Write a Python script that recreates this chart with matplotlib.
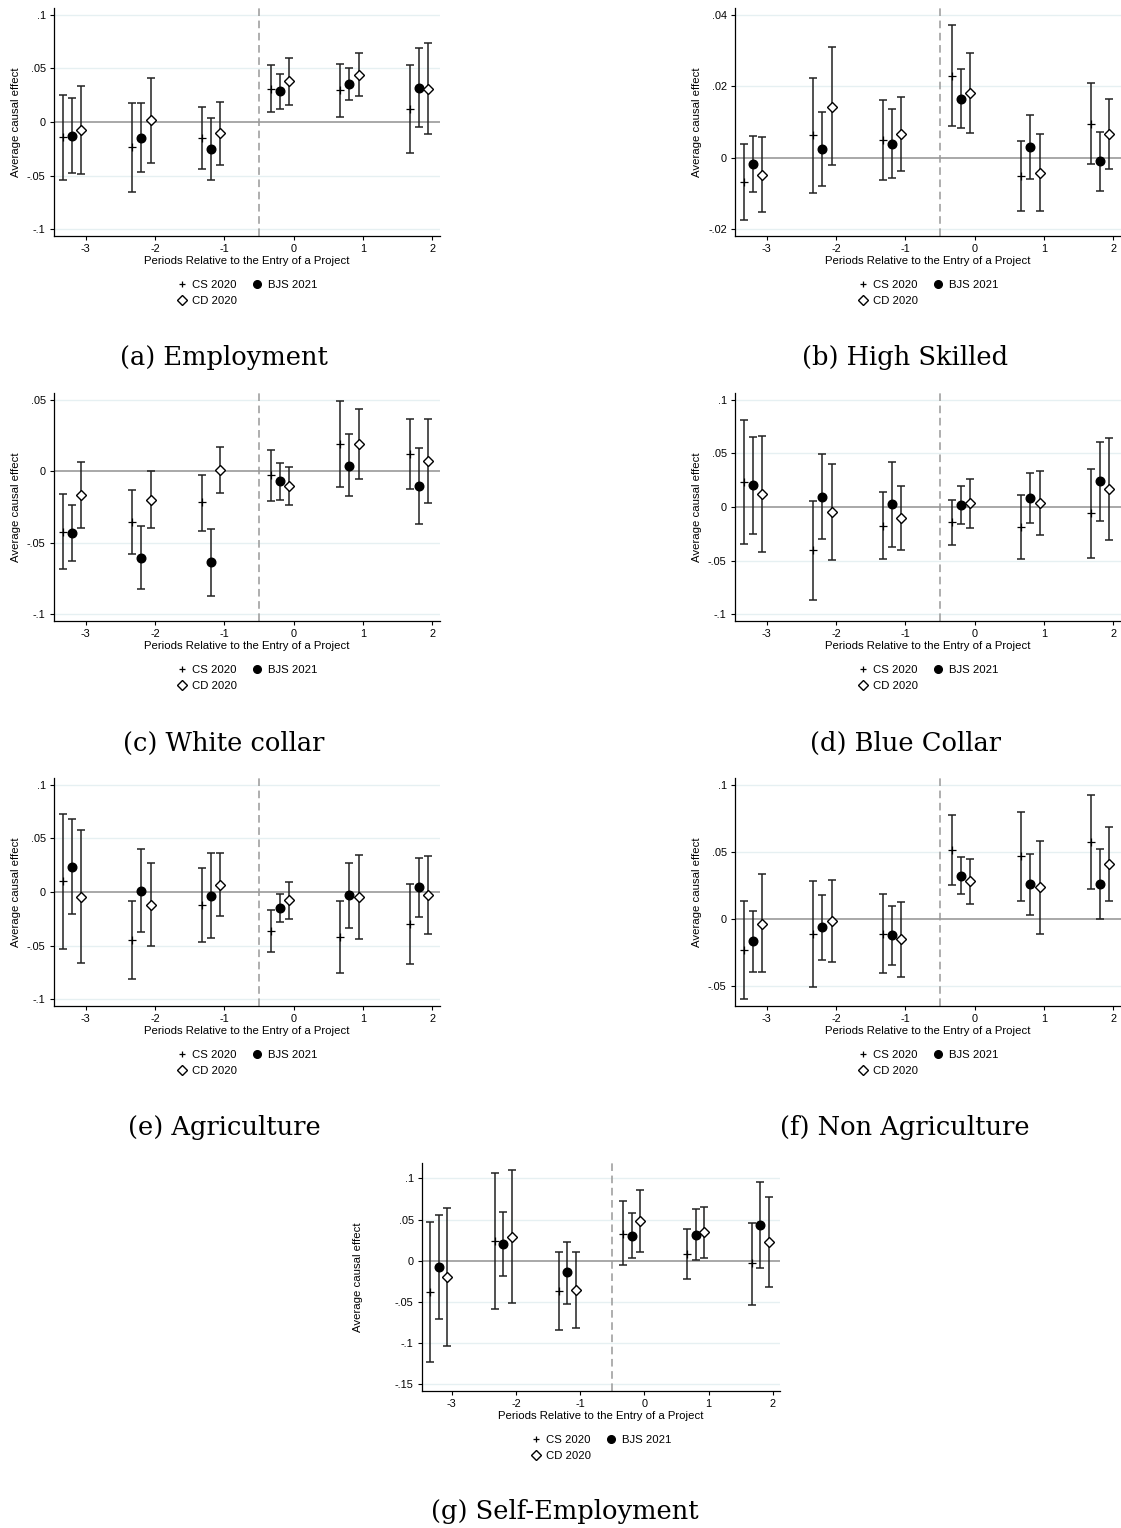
import matplotlib
matplotlib.use("Agg")
import matplotlib.pyplot as plt
from matplotlib.lines import Line2D
import numpy as np

plt.rcParams['font.family'] = ['Liberation Sans', 'DejaVu Sans']

periods = [-3, -2, -1, 0, 1, 2]
series_names = ["CS 2020", "BJS 2021", "CD 2020"]
xlabel = "Periods Relative to the Entry of a Project"
ylabel = "Average causal effect"

# (estimate, lower, upper) per period
emp_cs  = [(-0.014, -0.054, 0.025), (-0.023, -0.065, 0.018), (-0.015, -0.044, 0.014),
           (0.031, 0.009, 0.053), (0.030, 0.005, 0.054), (0.012, -0.029, 0.053)]
emp_bjs = [(-0.013, -0.048, 0.022), (-0.015, -0.047, 0.018), (-0.025, -0.054, 0.0034),
           (0.029, 0.0125, 0.045), (0.0355, 0.021, 0.050), (0.032, -0.0047, 0.069)]
emp_cd  = [(-0.0075, -0.049, 0.034), (0.0016, -0.038, 0.041), (-0.010, -0.040, 0.019),
           (0.038, 0.016, 0.060), (0.044, 0.0246, 0.064), (0.031, -0.011, 0.0735)]

hs_cs  = [(-0.0069, -0.0176, 0.0037), (0.0063, -0.0099, 0.0224), (0.005, -0.0063, 0.0163),
          (0.023, 0.0089, 0.0371), (-0.0052, -0.015, 0.0047), (0.0095, -0.0018, 0.021)]
hs_bjs = [(-0.0018, -0.0097, 0.0062), (0.0024, -0.0079, 0.0127), (0.0039, -0.0057, 0.0136),
          (0.0165, 0.0082, 0.0248), (0.0031, -0.0059, 0.012), (-0.0009, -0.0093, 0.0073)]
hs_cd  = [(-0.005, -0.0154, 0.0057), (0.0143, -0.0022, 0.0311), (0.0065, -0.0037, 0.017),
          (0.0182, 0.0068, 0.0295), (-0.0042, -0.015, 0.0067), (0.0065, -0.0031, 0.0164)]

wc_cs  = [(-0.0423, -0.0687, -0.0161), (-0.0353, -0.0577, -0.0133), (-0.0217, -0.0416, -0.0028),
          (-0.0028, -0.021, 0.0152), (0.0189, -0.0112, 0.0493), (0.0121, -0.0121, 0.0367)]
wc_bjs = [(-0.0435, -0.0626, -0.0236), (-0.0605, -0.0827, -0.0386), (-0.0638, -0.0874, -0.0404),
          (-0.007, -0.0203, 0.0061), (0.004, -0.0175, 0.0259), (-0.010, -0.0367, 0.0166)]
wc_cd  = [(-0.0166, -0.0397, 0.0065), (-0.020, -0.0397, 0.0), (0.0009, -0.0154, 0.0173),
          (-0.0103, -0.0234, 0.0028), (0.0192, -0.0051, 0.0435), (0.007, -0.0222, 0.0367)]

bc_cs  = [(0.023, -0.0343, 0.081), (-0.0405, -0.087, 0.006), (-0.0174, -0.049, 0.0137),
          (-0.0143, -0.0358, 0.0069), (-0.0184, -0.0483, 0.0112), (-0.0056, -0.0474, 0.0358)]
bc_bjs = [(0.0206, -0.025, 0.0657), (0.0097, -0.030, 0.0495), (0.0025, -0.0377, 0.0424),
          (0.0022, -0.0159, 0.020), (0.0084, -0.0146, 0.0318), (0.024, -0.0128, 0.0607)]
bc_cd  = [(0.0121, -0.0417, 0.0664), (-0.0047, -0.0495, 0.0402), (-0.010, -0.040, 0.020),
          (0.0034, -0.020, 0.0259), (0.0037, -0.026, 0.0333), (0.0165, -0.0312, 0.0645)]

ag_cs  = [(0.010, -0.0536, 0.0732), (-0.0445, -0.081, -0.0081), (-0.0118, -0.0464, 0.0227),
          (-0.0368, -0.0564, -0.0168), (-0.0417, -0.0757, -0.0081), (-0.0296, -0.067, 0.0075)]
ag_bjs = [(0.0234, -0.0209, 0.0679), (0.0012, -0.0377, 0.0402), (-0.0034, -0.0433, 0.0364),
          (-0.015, -0.0283, -0.0016), (-0.0031, -0.0333, 0.0271), (0.0044, -0.023, 0.0318)]
ag_cd  = [(-0.0044, -0.0667, 0.0583), (-0.0118, -0.0505, 0.0271), (0.0069, -0.0224, 0.0364),
          (-0.0078, -0.0252, 0.0093), (-0.0047, -0.0436, 0.0343), (-0.0025, -0.039, 0.034)]

na_cs  = [(-0.0234, -0.060, 0.0132), (-0.0112, -0.0506, 0.0282), (-0.011, -0.0406, 0.0187),
          (0.0511, 0.0249, 0.0773), (0.0466, 0.0132, 0.080), (0.0571, 0.0219, 0.092)]
na_bjs = [(-0.0167, -0.0394, 0.006), (-0.0062, -0.0307, 0.018), (-0.0122, -0.0342, 0.0095),
          (0.0322, 0.0187, 0.0459), (0.0257, 0.0025, 0.0486), (0.0262, 0.0, 0.0524)]
na_cd  = [(-0.0035, -0.040, 0.0334), (-0.0017, -0.0324, 0.0292), (-0.0152, -0.0431, 0.0127),
          (0.0279, 0.0107, 0.0449), (0.0234, -0.011, 0.0579), (0.0406, 0.0132, 0.0683)]

se_cs  = [(-0.0376, -0.1226, 0.0465), (0.0243, -0.0587, 0.1068), (-0.0364, -0.0837, 0.0109),
          (0.0328, -0.0057, 0.0728), (0.0081, -0.0222, 0.0384), (-0.0032, -0.0538, 0.0461)]
se_bjs = [(-0.0073, -0.0708, 0.0558), (0.0198, -0.019, 0.059), (-0.0142, -0.0522, 0.023),
          (0.0303, 0.0028, 0.0583), (0.0311, 0.0008, 0.0623), (0.0429, -0.0093, 0.095)]
se_cd  = [(-0.0202, -0.1036, 0.0635), (0.0291, -0.0518, 0.110), (-0.0352, -0.0813, 0.0109),
          (0.0477, 0.0109, 0.0854), (0.0344, 0.0036, 0.0655), (0.0222, -0.0324, 0.0769)]

captions = ["(a) Employment", "(b) High Skilled", "(c) White collar", "(d) Blue Collar",
            "(e) Agriculture", "(f) Non Agriculture", "(g) Self-Employment"]

yticks_a = [-0.1, -0.05, 0, 0.05, 0.1]
yticks_b = [-0.02, 0, 0.02, 0.04]
yticks_c = [-0.1, -0.05, 0, 0.05]
yticks_f = [-0.05, 0, 0.05, 0.1]
yticks_g = [-0.15, -0.1, -0.05, 0, 0.05, 0.1]

W, H = 1121, 1528
fig = plt.figure(figsize=(W / 100, H / 100), dpi=100)


def fmt(v):
    if abs(v) < 1e-12:
        return "0"
    s = ("%g" % v)
    s = s.replace("0.", ".")
    return s


# panel layout in pixels: left, right, top, bottom, ylim, ticks, caption x, caption y, data, ylabel pad
panels = [
    (54, 440, 8, 236, (-0.1065, 0.1065), yticks_a, 224, 358, (emp_cs, emp_bjs, emp_cd), 4),
    (735, 1121, 8, 236, (-0.022, 0.042), yticks_b, 905, 358, (hs_cs, hs_bjs, hs_cd), 4),
    (54, 440, 393, 621, (-0.105, 0.055), yticks_c, 224, 743, (wc_cs, wc_bjs, wc_cd), 4),
    (735, 1121, 393, 621, (-0.1065, 0.1065), yticks_a, 905, 743, (bc_cs, bc_bjs, bc_cd), 4),
    (54, 440, 778, 1006, (-0.1065, 0.1065), yticks_a, 224, 1128, (ag_cs, ag_bjs, ag_cd), 4),
    (735, 1121, 778, 1006, (-0.065, 0.105), yticks_f, 905, 1128, (na_cs, na_bjs, na_cd), 4),
    (422, 780, 1163, 1391, (-0.158, 0.1186), yticks_g, 565, 1512, (se_cs, se_bjs, se_cd), 23),
]

offsets = [-0.33, -0.2, -0.065]
markers = ['+', 'o', 'D']
msizes = [6, 6.2, 5.6]
faces = ['black', 'black', 'white']

for i, (l, r, t, b, ylim, yt, cx, cy, data, ypad) in enumerate(panels):
    ax = fig.add_axes([l / W, 1 - b / H, (r - l) / W, (b - t) / H])
    for s, ser in enumerate(data):
        arr = np.array(ser)
        x = np.array(periods) + offsets[s]
        est, lo, hi = arr[:, 0], arr[:, 1], arr[:, 2]
        ax.errorbar(x, est, yerr=[est - lo, hi - est], fmt='none', ecolor='#222222',
                    elinewidth=1.1, capsize=3, capthick=1.1, zorder=3)
        ax.plot(x, est, linestyle='none', marker=markers[s], markersize=msizes[s],
                markerfacecolor=faces[s], markeredgecolor='black',
                markeredgewidth=1.0 if s != 0 else 0.9, color='black', zorder=4)
    ax.set_xlim(-3.46, 2.11)
    ax.set_ylim(*ylim)
    for v in yt:
        if v != 0:
            ax.axhline(v, color='#e6f0f2', linewidth=1.0, zorder=0)
    ax.axhline(0, color='#999999', linewidth=1.2, zorder=1)
    ax.axvline(-0.5, color='#999999', linewidth=1.1, linestyle=(0, (5, 3)), zorder=1)
    ax.set_yticks(yt)
    ax.set_yticklabels([fmt(v) for v in yt])
    ax.set_xticks(periods)
    ax.set_xticklabels([str(p) for p in periods])
    for sp in ['top', 'right']:
        ax.spines[sp].set_visible(False)
    for sp in ['left', 'bottom']:
        ax.spines[sp].set_linewidth(0.9)
    ax.tick_params(axis='both', labelsize=7.8, length=3, width=0.8, pad=3)
    ax.set_xlabel(xlabel, fontsize=8.2, labelpad=1.5)
    ax.set_ylabel(ylabel, fontsize=8.2, labelpad=ypad)
    handles = [
        Line2D([], [], linestyle='none', marker='+', markersize=5, color='black',
               markeredgewidth=0.9, label=series_names[0]),
        Line2D([], [], linestyle='none', marker='D', markersize=5, markerfacecolor='white',
               markeredgecolor='black', label=series_names[2]),
        Line2D([], [], linestyle='none', marker='o', markersize=5.5, color='black',
               label=series_names[1]),
    ]
    ax.legend(handles=handles, ncol=2, loc='upper center', bbox_to_anchor=(0.5, -0.17),
              frameon=False, fontsize=8.2, handlelength=0.8, handletextpad=0.5,
              columnspacing=1.4, labelspacing=0.45, borderpad=0)
    fig.text(cx / W, 1 - cy / H, captions[i], ha='center', va='center',
             fontsize=18.5, family=['DejaVu Serif'])

fig.savefig("out.png", dpi=100)
